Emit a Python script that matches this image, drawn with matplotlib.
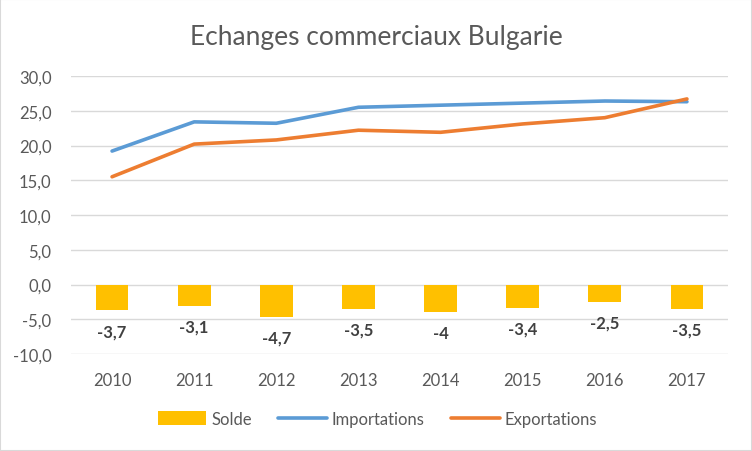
import numpy as np
import matplotlib
matplotlib.use('Agg')
import matplotlib.pyplot as plt
from matplotlib.ticker import FuncFormatter
from matplotlib.patches import Rectangle

plt.rcParams['font.family'] = ['Lato', 'DejaVu Sans']

# Data
years = ['2010', '2011', '2012', '2013', '2014', '2015', '2016', '2017']
solde = [-3.7, -3.1, -4.7, -3.5, -4.0, -3.4, -2.5, -3.5]
solde_labels = ['-3,7', '-3,1', '-4,7', '-3,5', '-4', '-3,4', '-2,5', '-3,5']
importations = [19.2, 23.4, 23.2, 25.5, 25.8, 26.1, 26.4, 26.3]
exportations = [15.5, 20.2, 20.8, 22.2, 21.9, 23.1, 24.0, 26.7]

grey = '#595959'
x = np.arange(len(years))

fig = plt.figure(figsize=(7.52, 4.52), dpi=100)
ax = fig.add_axes([71/752, 1 - 355/452, 657/752, 278/452])

b = ax.bar(x, solde, width=0.4, color='#ffc000', zorder=2, label='Solde')
l1, = ax.plot(x, importations, color='#5b9bd5', lw=2.6, solid_capstyle='round', zorder=3, label='Importations')
l2, = ax.plot(x, exportations, color='#ed7d31', lw=2.6, solid_capstyle='round', zorder=3, label='Exportations')

#Data labels under the bars
for xi, v, lab in zip(x, solde, solde_labels):
    ax.annotate(lab, (xi, v), xytext=(0, -15), textcoords='offset points',
                ha='center', va='center', fontsize=12, fontweight='bold', color='#404040')

ax.set_xlim(-0.5, len(years) - 0.5)
ax.set_ylim(-10, 30)
ax.set_yticks(np.arange(-10, 31, 5))
ax.yaxis.set_major_formatter(FuncFormatter(lambda v, p: f'{v:.1f}'.replace('.', ',')))
ax.set_xticks(x)
ax.set_xticklabels(years)
ax.tick_params(length=0, labelsize=12, labelcolor=grey)
ax.tick_params(axis='x', pad=13)
ax.tick_params(axis='y', pad=14)
ax.grid(axis='y', color='#d9d9d9', lw=1, zorder=0)
ax.set_axisbelow(True)
for s in ax.spines.values():
    s.set_visible(False)

fig.text(0.5, 1 - 38/452, 'Echanges commerciaux Bulgarie', ha='center', va='center',
         fontsize=19, color=grey)

fig.legend(handles=[b, l1, l2], loc='center', bbox_to_anchor=(0.502, 1 - 420/452), ncol=3,
           frameon=False, fontsize=12, labelcolor=grey, handlelength=2.9,
           columnspacing=1.6, handletextpad=0.3, handleheight=0.9)

# thin border around the figure
fig.patches.append(Rectangle((0, 0), 1, 1, transform=fig.transFigure, fill=False,
                             edgecolor='#d9d9d9', lw=1.5))

fig.savefig('out.png', dpi=100)
